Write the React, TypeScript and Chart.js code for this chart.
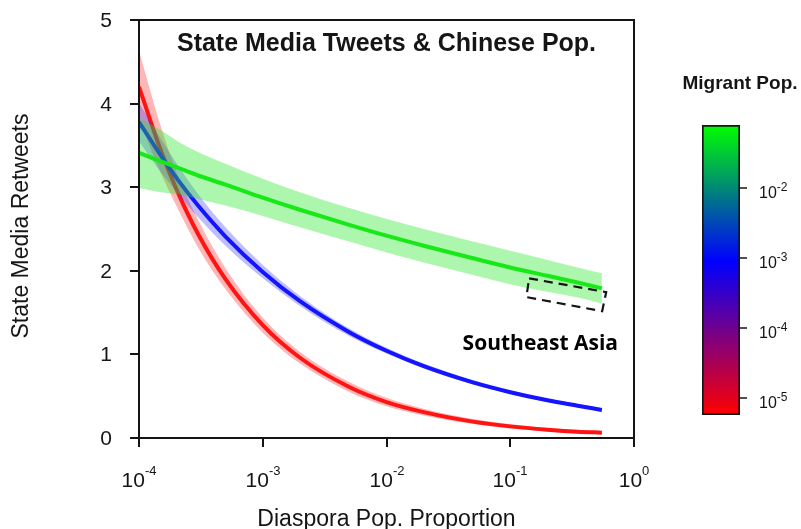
import { useEffect, useRef } from "react";
import { Chart, registerables } from "chart.js";

Chart.register(...registerables);

// Diaspora population proportion (x, log scale)
const diasporaProp = [1e-4, 1.5e-4, 2e-4, 3e-4, 5e-4, 1e-3, 2e-3, 5e-3, 1e-2, 2e-2, 5e-2, 0.1, 0.2, 0.35, 0.55];

// Predicted state media retweets for three migrant population levels
const lowMigrant = [4.2, 3.44, 2.98, 2.44, 1.9, 1.35, 0.96, 0.61, 0.43, 0.31, 0.196, 0.139, 0.099, 0.075, 0.064];
const lowMigrantUpper = [4.63, 3.73, 3.19, 2.61, 2.03, 1.44, 1.03, 0.67, 0.48, 0.35, 0.226, 0.164, 0.119, 0.095, 0.084];
const lowMigrantLower = [3.8, 3.17, 2.78, 2.28, 1.78, 1.26, 0.89, 0.55, 0.38, 0.27, 0.166, 0.114, 0.079, 0.055, 0.044];

const midMigrant = [3.78, 3.38, 3.115, 2.78, 2.41, 1.986, 1.636, 1.266, 1.043, 0.859, 0.665, 0.548, 0.451, 0.386, 0.335];
const midMigrantUpper = [4.01, 3.58, 3.29, 2.92, 2.52, 2.07, 1.7, 1.31, 1.08, 0.89, 0.69, 0.57, 0.47, 0.41, 0.355];
const midMigrantLower = [3.55, 3.18, 2.95, 2.64, 2.3, 1.91, 1.58, 1.22, 1.01, 0.83, 0.64, 0.53, 0.43, 0.37, 0.315];

const highMigrant = [3.41, 3.31, 3.24, 3.14, 3.03, 2.875, 2.73, 2.55, 2.42, 2.3, 2.15, 2.04, 1.94, 1.86, 1.79];
const highMigrantUpper = [3.83, 3.68, 3.56, 3.42, 3.28, 3.1, 2.94, 2.75, 2.62, 2.5, 2.35, 2.24, 2.13, 2.04, 1.97];
const highMigrantLower = [2.99, 2.94, 2.92, 2.86, 2.78, 2.655, 2.52, 2.35, 2.22, 2.1, 1.95, 1.84, 1.75, 1.68, 1.61];

// Axis ticks
const xTickValues = [1e-4, 1e-3, 1e-2, 1e-1, 1];
const xTickExponents = ["-4", "-3", "-2", "-1", "0"];
const yTickValues = [0, 1, 2, 3, 4, 5];

// Highlighted Southeast Asia region (corners in data space)
const regionX = [0.142, 0.596, 0.553, 0.135];
const regionY = [1.91, 1.745, 1.517, 1.685];
const regionLabel = "Southeast Asia";
const regionLabelX = 0.175;
const regionLabelY = 1.13;

// Colour bar for migrant population
const cbMin = 5.7e-6;
const cbMax = 0.0794;
const cbTickValues = [1e-5, 1e-4, 1e-3, 1e-2];
const cbTickExponents = ["-5", "-4", "-3", "-2"];
const cbStopValues = [5.7e-6, 9e-4, 0.0794];
const cbStopColors = ["#ff0000", "#0000ff", "#00ff00"];

const SANS = '"Liberation Sans", Arial, sans-serif';

const pts = (ys: number[]) => diasporaProp.map((x, i) => ({ x, y: ys[i] }));

function drawPower(
  ctx: CanvasRenderingContext2D,
  exp: string,
  x: number,
  baseY: number,
  size: number,
  supSize: number,
  raise: number,
  align: "center" | "left"
) {
  ctx.font = `${size}px ${SANS}`;
  const w1 = ctx.measureText("10").width;
  ctx.font = `${supSize}px ${SANS}`;
  const w2 = ctx.measureText(exp).width;
  const left = align === "center" ? x - (w1 + w2) / 2 : x;
  ctx.textAlign = "left";
  ctx.textBaseline = "alphabetic";
  ctx.font = `${size}px ${SANS}`;
  ctx.fillText("10", left, baseY);
  ctx.font = `${supSize}px ${SANS}`;
  ctx.fillText(exp, left + w1, baseY - raise);
}

const framePlugin = {
  id: "frame",
  afterDraw(chart: any) {
    const { ctx, chartArea: a } = chart;
    const xs = chart.scales.x;
    const ys = chart.scales.y;
    ctx.save();
    ctx.strokeStyle = "#151515";
    ctx.fillStyle = "#151515";
    ctx.lineWidth = 2;
    ctx.strokeRect(a.left, a.top, a.right - a.left, a.bottom - a.top);

    // y axis ticks and labels
    yTickValues.forEach((v) => {
      const py = Math.round(ys.getPixelForValue(v));
      ctx.beginPath();
      ctx.moveTo(a.left - 9, py);
      ctx.lineTo(a.left, py);
      ctx.stroke();
      ctx.font = `21px ${SANS}`;
      ctx.textAlign = "right";
      ctx.textBaseline = "middle";
      ctx.fillText(String(v), a.left - 27, py + 1);
    });

    // x axis ticks and labels
    xTickValues.forEach((v, i) => {
      const px = Math.round(xs.getPixelForValue(v));
      ctx.beginPath();
      ctx.moveTo(px, a.bottom);
      ctx.lineTo(px, a.bottom + 9);
      ctx.stroke();
      drawPower(ctx, xTickExponents[i], px, a.bottom + 49, 21, 13, 12, "center");
    });

    // axis titles
    ctx.font = `23px ${SANS}`;
    ctx.textAlign = "center";
    ctx.textBaseline = "alphabetic";
    ctx.fillText("Diaspora Pop. Proportion", (a.left + a.right) / 2, a.bottom + 88);
    ctx.save();
    ctx.translate(22, (a.top + a.bottom) / 2 - 3);
    ctx.rotate(-Math.PI / 2);
    ctx.textBaseline = "middle";
    ctx.fillText("State Media Retweets", 0, 0);
    ctx.restore();

    // chart title
    ctx.font = `bold 25px ${SANS}`;
    ctx.textAlign = "center";
    ctx.textBaseline = "middle";
    ctx.fillText("State Media Tweets & Chinese Pop.", (a.left + a.right) / 2, 44);

    // highlighted region
    ctx.setLineDash([9, 6]);
    ctx.lineWidth = 2.2;
    ctx.beginPath();
    regionX.forEach((rx, i) => {
      const px = xs.getPixelForValue(rx);
      const py = ys.getPixelForValue(regionY[i]);
      if (i === 0) ctx.moveTo(px, py);
      else ctx.lineTo(px, py);
    });
    ctx.closePath();
    ctx.stroke();
    ctx.setLineDash([]);

    ctx.font = `bold 21px "Open Sans", ${SANS}`;
    ctx.fillStyle = "#000";
    ctx.textAlign = "center";
    ctx.textBaseline = "middle";
    ctx.fillText(regionLabel, xs.getPixelForValue(regionLabelX), ys.getPixelForValue(regionLabelY));
    ctx.restore();
  },
};

const colorbarPlugin = {
  id: "colorbarDecor",
  afterDraw(chart: any) {
    const { ctx, chartArea: a } = chart;
    const ys = chart.scales.y;
    ctx.save();
    ctx.strokeStyle = "#151515";
    ctx.fillStyle = "#151515";
    ctx.lineWidth = 1.5;
    cbTickValues.forEach((v, i) => {
      const py = Math.round(ys.getPixelForValue(v));
      ctx.beginPath();
      ctx.moveTo(a.right, py);
      ctx.lineTo(a.right + 7, py);
      ctx.stroke();
      drawPower(ctx, cbTickExponents[i], a.right + 19, py + 10, 16, 12, 7, "left");
    });
    ctx.font = `bold 19px ${SANS}`;
    ctx.textAlign = "center";
    ctx.textBaseline = "middle";
    ctx.fillText("Migrant Pop.", 80, 84);
    ctx.restore();
  },
};

const band = (data: number[], color: string, target: number, order: number) => ({
  data: pts(data),
  borderColor: "transparent",
  borderWidth: 0,
  backgroundColor: color,
  pointRadius: 0,
  fill: target,
  order,
  cubicInterpolationMode: "monotone" as const,
});

const edge = (data: number[], order: number) => ({
  data: pts(data),
  borderColor: "transparent",
  borderWidth: 0,
  pointRadius: 0,
  fill: false,
  order,
  cubicInterpolationMode: "monotone" as const,
});

const curve = (data: number[], color: string, order: number) => ({
  data: pts(data),
  borderColor: color,
  borderWidth: 4,
  pointRadius: 0,
  fill: false,
  order,
  cubicInterpolationMode: "monotone" as const,
});

export default function App() {
  const mainRef = useRef<HTMLCanvasElement | null>(null);
  const barRef = useRef<HTMLCanvasElement | null>(null);

  useEffect(() => {
    if (!mainRef.current || !barRef.current) return;

    const main = new Chart(mainRef.current, {
      type: "line",
      data: {
        datasets: [
          // 0-2: low migrant population (red)
          band(lowMigrantUpper, "rgba(255, 40, 40, 0.34)", 1, 6),
          edge(lowMigrantLower, 6),
          curve(lowMigrant, "#ff1414", 5),
          // 3-5: middle migrant population (blue)
          band(midMigrantUpper, "rgba(40, 40, 255, 0.3)", 4, 4),
          edge(midMigrantLower, 4),
          curve(midMigrant, "#1414ff", 3),
          // 6-8: high migrant population (green)
          band(highMigrantUpper, "rgba(40, 232, 40, 0.38)", 7, 2),
          edge(highMigrantLower, 2),
          curve(highMigrant, "#18e818", 1),
        ] as any,
      },
      options: {
        animation: false,
        responsive: false,
        events: [],
        layout: { padding: { left: 139, right: 167, top: 20, bottom: 91 } },
        scales: {
          x: { type: "logarithmic", min: 1e-4, max: 1, display: false },
          y: { type: "linear", min: 0, max: 5, display: false },
        },
        plugins: {
          legend: { display: false },
          tooltip: { enabled: false },
          filler: { propagate: false },
        },
      },
      plugins: [framePlugin],
    });

    const bar = new Chart(barRef.current, {
      type: "bar",
      data: {
        labels: [""],
        datasets: [
          {
            data: [[cbMin, cbMax]] as any,
            backgroundColor: (c: any) => {
              const ch = c.chart;
              const area = ch.chartArea;
              if (!area) return "transparent";
              const ys = ch.scales.y;
              const g = ch.ctx.createLinearGradient(0, area.bottom, 0, area.top);
              cbStopValues.forEach((v, i) => {
                const f = (ys.getPixelForValue(v) - area.bottom) / (area.top - area.bottom);
                g.addColorStop(Math.min(1, Math.max(0, f)), cbStopColors[i]);
              });
              return g;
            },
            borderColor: "#151515",
            borderWidth: 2,
            borderSkipped: false,
            barPercentage: 1,
            categoryPercentage: 1,
          },
        ],
      },
      options: {
        animation: false,
        responsive: false,
        events: [],
        layout: { padding: { left: 42, right: 61, top: 125, bottom: 114 } },
        scales: {
          x: { display: false },
          y: { type: "logarithmic", min: cbMin, max: cbMax, display: false },
        },
        plugins: { legend: { display: false }, tooltip: { enabled: false } },
      },
      plugins: [colorbarPlugin],
    });

    return () => {
      main.destroy();
      bar.destroy();
    };
  }, []);

  return (
    <div style={{ position: "absolute", left: 0, top: 0, width: 801, height: 529, background: "#fff" }}>
      <canvas ref={mainRef} width={801} height={529} style={{ position: "absolute", left: 0, top: 0 }} />
      <canvas ref={barRef} width={141} height={529} style={{ position: "absolute", left: 660, top: 0 }} />
    </div>
  );
}
